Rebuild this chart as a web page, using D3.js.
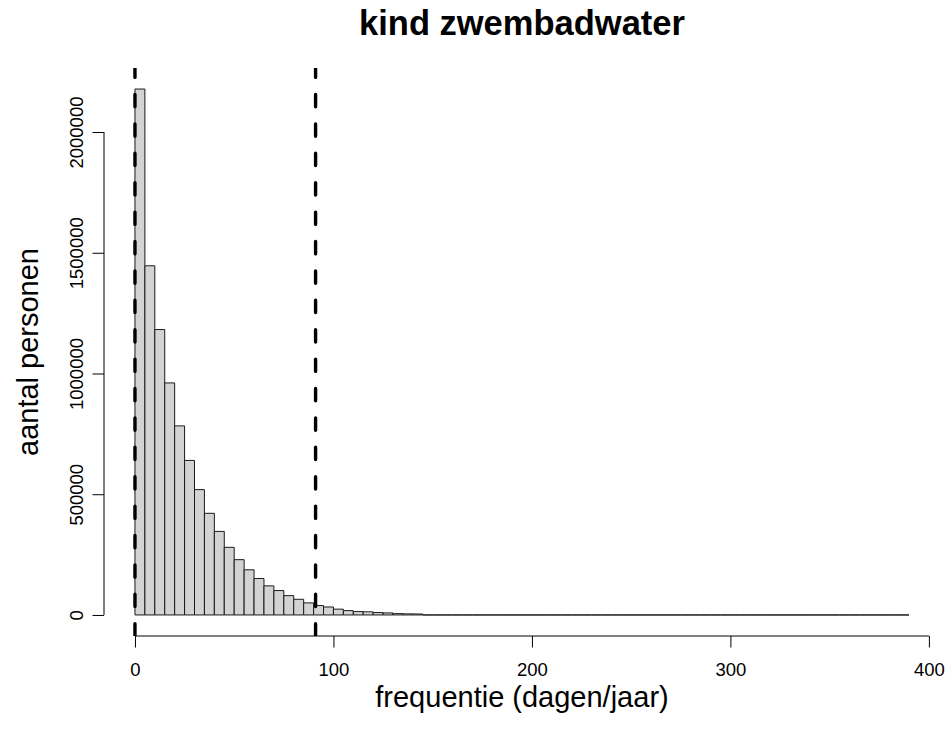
<!DOCTYPE html>
<html>
<head>
<meta charset="utf-8">
<script src="https://cdn.jsdelivr.net/npm/d3@7"></script>
<style>
    body { margin: 0; background: #fff; }
    text { font-family: "Liberation Sans", Arial, sans-serif; fill: #000; }
</style>
</head>
<body>
<script>
    // histogram: bins of 5 days, 0 - 390
    var binWidth = 5;
    var counts = [
        2178000, 1446000, 1182000, 961000, 783000, 640000, 519000, 421000, 346000, 280000,
        229000, 187000, 151000, 120500, 101000, 80000, 65000, 50000, 39000, 33000,
        24000, 18000, 14000, 13000, 10000, 8500, 5500, 4500, 4000, 0,
        0, 0, 0, 0, 0, 0, 0, 0, 0, 0,
        0, 0, 0, 0, 0, 0, 0, 0, 0, 0,
        0, 0, 0, 0, 0, 0, 0, 0, 0, 0,
        0, 0, 0, 0, 0, 0, 0, 0, 0, 0,
        0, 0, 0, 0, 0, 0, 0, 1
    ];
    var xTicks = [0, 100, 200, 300, 400];
    var yTicks = [0, 500000, 1000000, 1500000, 2000000];
    var vLines = [0, 91];   // dashed reference lines

    var titleText = "kind zwembadwater",
        xLabel = "frequentie (dagen/jaar)",
        yLabel = "aantal personen";

    var width = 948, height = 732;
    var plot = {left: 104, right: 940, top: 68, bottom: 636};

    var svg = d3.select("body")
        .append("svg")
        .attr("width", width)
        .attr("height", height);

    // R style: axis range extended by 4% on each side
    var xMax = counts.length * binWidth;
    var xScale = d3.scaleLinear()
        .domain([-0.04 * xMax, 1.04 * xMax])
        .range([plot.left, plot.right]);

    var yMax = d3.max(counts);
    var yScale = d3.scaleLinear()
        .domain([-0.04 * yMax, 1.04 * yMax])
        .range([plot.bottom, plot.top]);

    svg.append("clipPath")
        .attr("id", "plotClip")
        .append("rect")
        .attr("x", plot.left)
        .attr("y", plot.top)
        .attr("width", plot.right - plot.left)
        .attr("height", plot.bottom - plot.top);

    // bars (zero height ones still show as a line, like R)
    svg.append("g")
        .selectAll(".bars")
        .data(counts)
        .enter()
        .append("path")
        .attr("class", "bars")
        .attr("d", function(d, i){
            var x0 = xScale(i * binWidth),
                x1 = xScale((i + 1) * binWidth),
                y0 = yScale(0),
                y1 = yScale(d);
            return "M" + x0 + "," + y0 + "H" + x1 + "V" + y1 + "H" + x0 + "Z";
        })
        .attr("fill", "#d3d3d3")
        .attr("stroke", "#1a1a1a")
        .attr("stroke-width", 1);

    // dashed lines
    svg.append("g")
        .attr("clip-path", "url(#plotClip)")
        .selectAll(".vline")
        .data(vLines)
        .enter()
        .append("line")
        .attr("class", "vline")
        .attr("x1", function(d){ return xScale(d); })
        .attr("x2", function(d){ return xScale(d); })
        .attr("y1", plot.bottom)
        .attr("y2", plot.top)
        .attr("stroke", "#000")
        .attr("stroke-width", 3.4)
        .attr("stroke-linecap", "round")
        .attr("stroke-dasharray", "12.3,17.1");

    // x axis
    var xAxis = svg.append("g")
        .attr("transform", "translate(0," + plot.bottom + ")")
        .call(d3.axisBottom(xScale).tickValues(xTicks).tickSize(11.5).tickSizeOuter(0));
    xAxis.select(".domain").remove();
    xAxis.append("line")
        .attr("x1", xScale(xTicks[0]))
        .attr("x2", xScale(xTicks[xTicks.length - 1]))
        .attr("stroke", "#000");
    xAxis.selectAll(".tick line").attr("stroke", "#000");
    xAxis.selectAll(".tick text")
        .attr("y", 40)
        .attr("dy", 0)
        .style("font-size", "18.5px")
        .style("font-family", "'Liberation Sans', Arial, sans-serif");

    // y axis
    var yAxis = svg.append("g")
        .attr("transform", "translate(" + plot.left + ",0)")
        .call(d3.axisLeft(yScale).tickValues(yTicks).tickSize(11.5).tickSizeOuter(0).tickFormat(d3.format("d")));
    yAxis.select(".domain").remove();
    yAxis.append("line")
        .attr("y1", yScale(yTicks[0]))
        .attr("y2", yScale(yTicks[yTicks.length - 1]))
        .attr("stroke", "#000");
    yAxis.selectAll(".tick line").attr("stroke", "#000");
    yAxis.selectAll(".tick text")
        .attr("x", 0)
        .attr("dy", 0)
        .attr("transform", "translate(-20.7,0) rotate(-90)")
        .attr("text-anchor", "middle")
        .style("font-size", "18.5px")
        .style("font-family", "'Liberation Sans', Arial, sans-serif");

    // titles
    var midX = (plot.left + plot.right) / 2,
        midY = (plot.top + plot.bottom) / 2;

    svg.append("text")
        .attr("x", midX)
        .attr("y", 35)
        .attr("text-anchor", "middle")
        .style("font-size", "34.5px")
        .style("font-weight", "bold")
        .text(titleText);

    svg.append("text")
        .attr("x", midX)
        .attr("y", 707)
        .attr("text-anchor", "middle")
        .style("font-size", "29px")
        .text(xLabel);

    svg.append("text")
        .attr("transform", "translate(38," + midY + ") rotate(-90)")
        .attr("text-anchor", "middle")
        .style("font-size", "29px")
        .text(yLabel);
</script>
</body>
</html>
